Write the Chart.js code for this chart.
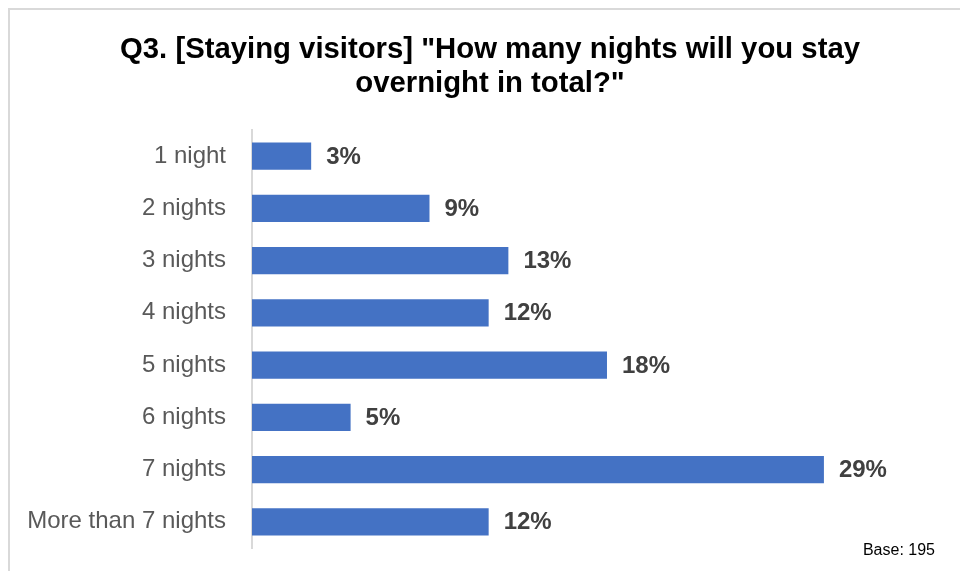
<!DOCTYPE html>
<html>
<head>
<meta charset="utf-8">
<script src="https://cdn.jsdelivr.net/npm/chart.js@4/dist/chart.umd.min.js"></script>
<style>
  html, body { margin: 0; padding: 0; background: #fff; }
  #wrap { position: relative; width: 960px; height: 571px; }
</style>
</head>
<body>
<div id="wrap"><canvas id="nightsChart"></canvas></div>
<script>
// 숙박 일수 응답 비율 (%)
const categories = ['1 night', '2 nights', '3 nights', '4 nights', '5 nights', '6 nights', '7 nights', 'More than 7 nights'];
const shares = [3, 9, 13, 12, 18, 5, 29, 12];
const titleLines = ['Q3. [Staying visitors] "How many nights will you stay', 'overnight in total?"'];
const baseNote = 'Base: 195';

const FONT = '"Liberation Sans", Arial, sans-serif';

// 바깥 테두리 + 베이스 표기
const framePlugin = {
    id: 'frame',
    beforeDraw(chart) {
        const ctx = chart.ctx;
        ctx.save();
        ctx.strokeStyle = '#d9d9d9';
        ctx.lineWidth = 2;
        ctx.beginPath();
        ctx.moveTo(9, chart.height);
        ctx.lineTo(9, 9);
        ctx.lineTo(chart.width, 9);
        ctx.stroke();
        ctx.restore();
    },
    afterDraw(chart) {
        const ctx = chart.ctx;
        ctx.save();
        ctx.font = '16px ' + FONT;
        ctx.fillStyle = '#000';
        ctx.textAlign = 'right';
        ctx.textBaseline = 'middle';
        ctx.fillText(baseNote, 935, 551);
        ctx.restore();
    }
};

// 막대 끝에 값 표시
const valueLabels = {
    id: 'valueLabels',
    afterDatasetsDraw(chart) {
        const ctx = chart.ctx;
        const meta = chart.getDatasetMeta(0);
        ctx.save();
        ctx.font = 'bold 24px ' + FONT;
        ctx.fillStyle = '#404040';
        ctx.textAlign = 'left';
        ctx.textBaseline = 'middle';
        meta.data.forEach((bar, i) => {
            ctx.fillText(shares[i] + '%', bar.x + 15, bar.y + 1);
        });
        ctx.restore();
    }
};

new Chart(document.getElementById('nightsChart'), {
    type: 'bar',
    data: {
        labels: categories,
        datasets: [{
            data: shares,
            backgroundColor: '#4472C4',
            borderWidth: 0,
            barPercentage: 0.52,
            categoryPercentage: 1
        }]
    },
    options: {
        indexAxis: 'y',
        responsive: true,
        maintainAspectRatio: false,
        animation: false,
        layout: { padding: { left: 20, right: 0, top: 33, bottom: 23 } },
        plugins: {
            legend: { display: false },
            tooltip: { enabled: false },
            title: {
                display: true,
                text: titleLines,
                color: '#000',
                font: { family: FONT, size: 29.3, weight: 'bold', lineHeight: 1.16 },
                padding: { top: 0, bottom: 29 }
            }
        },
        scales: {
            x: {
                display: false,
                min: 0,
                max: 35.9
            },
            y: {
                afterFit(scale) {
                    scale.width = 232;
                    // 라벨 여백이 플롯 영역을 줄이지 않도록
                    scale.paddingTop = 0;
                    scale.paddingBottom = 0;
                },
                grid: { display: false, drawTicks: false },
                border: { display: true, color: '#d9d9d9', width: 2 },
                ticks: {
                    color: '#595959',
                    padding: 26,
                    font: { family: FONT, size: 24 }
                }
            }
        }
    },
    plugins: [framePlugin, valueLabels]
});
</script>
</body>
</html>
